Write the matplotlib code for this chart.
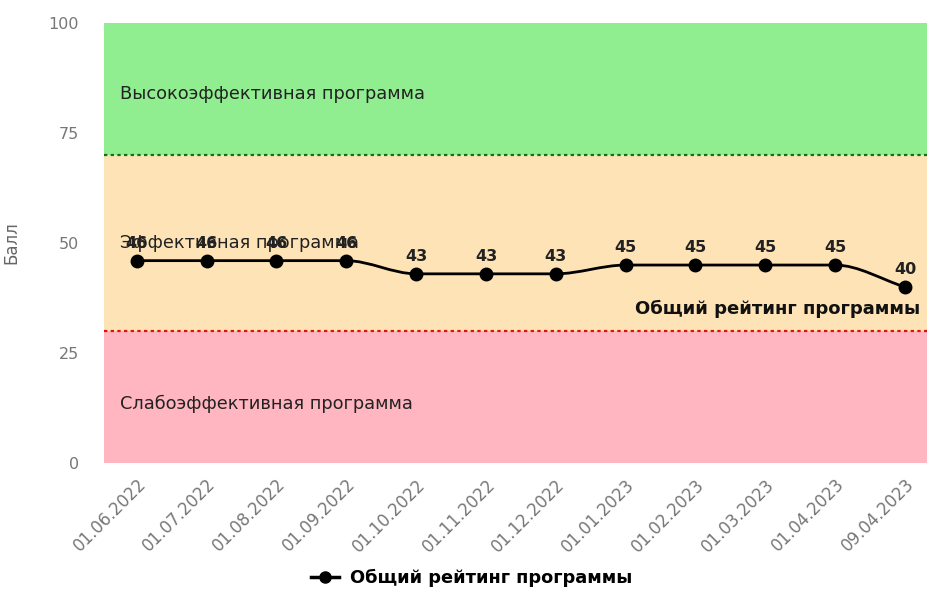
import numpy as np
import matplotlib.pyplot as plt
from matplotlib.path import Path
from matplotlib.patches import PathPatch
from matplotlib.lines import Line2D

dates = ['01.06.2022', '01.07.2022', '01.08.2022', '01.09.2022', '01.10.2022', '01.11.2022',
         '01.12.2022', '01.01.2023', '01.02.2023', '01.03.2023', '01.04.2023', '09.04.2023']
rating = [46, 46, 46, 46, 43, 43, 43, 45, 45, 45, 45, 40]
series_name = 'Общий рейтинг программы'

zone_names = ['Слабоэффективная программа', 'Эффективная программа', 'Высокоэффективная программа']
zone_bounds = [0, 30, 70, 100]
zone_colors = ['#ffb6c1', '#fde3b6', '#90ee90']


def monotone_path(x, y):
    # кривая как в Chart.js (monotone)
    x = np.asarray(x, float)
    y = np.asarray(y, float)
    n = len(x)
    d = np.diff(y) / np.diff(x)
    m = np.zeros(n)
    m[0], m[-1] = d[0], d[-1]
    for i in range(1, n - 1):
        m[i] = 0 if d[i - 1] * d[i] <= 0 else (d[i - 1] + d[i]) / 2
    for i in range(n - 1):
        if d[i] == 0:
            m[i] = m[i + 1] = 0
    verts = [(x[0], y[0])]
    codes = [Path.MOVETO]
    for i in range(n - 1):
        h = (x[i + 1] - x[i]) / 3
        verts += [(x[i] + h, y[i] + m[i] * h), (x[i + 1] - h, y[i + 1] - m[i + 1] * h), (x[i + 1], y[i + 1])]
        codes += [Path.CURVE4] * 3
    return Path(verts, codes)


fig = plt.figure(figsize=(9.28, 5.95), dpi=100)
ax = fig.add_axes([0.112, 0.222, 0.888, 0.739])

xs = np.arange(len(dates))
ax.set_xlim(-0.47, len(dates) - 1 + 0.33)
ax.set_ylim(0, 100)

for lo, hi, c in zip(zone_bounds[:-1], zone_bounds[1:], zone_colors):
    ax.axhspan(lo, hi, color=c, lw=0, zorder=0)
ax.axhline(70, color='#1a6b1a', ls=(0, (1.5, 1.5)), lw=1.6, zorder=1)
ax.axhline(30, color='#e01010', ls=(0, (1.5, 1.5)), lw=1.6, zorder=1)

zone_y = [13.5, 50, 84]
for name, yy in zip(zone_names, zone_y):
    ax.text(0.02, yy, name, transform=ax.get_yaxis_transform(), fontsize=12.8,
            color='#222222', va='center', ha='left', zorder=2)

ax.add_patch(PathPatch(monotone_path(xs, rating), fill=False, lw=2, color='black', zorder=3))
ax.plot(xs, rating, 'o', color='black', ms=9, zorder=4)
for x, v in zip(xs, rating):
    ax.annotate(str(v), (x, v), xytext=(0, 7), textcoords='offset points', ha='center',
                va='bottom', fontsize=11.5, fontweight='bold', color='#222222', zorder=5)
ax.annotate(series_name, (xs[-1], rating[-1]), xytext=(11, -9), textcoords='offset points',
            ha='right', va='top', fontsize=13, fontweight='bold', color='#111111', zorder=5)

ax.set_yticks([0, 25, 50, 75, 100])
ax.set_xticks(xs)
ax.set_xticklabels(dates, rotation=45, ha='right', rotation_mode='anchor')
ax.tick_params(colors='#777777', labelsize=12, length=0)
ax.tick_params(axis='y', pad=18, labelsize=11.5)
ax.tick_params(axis='x', pad=9)
ax.set_ylabel('Балл', color='#666666', fontsize=12)
ax.yaxis.set_label_coords(-0.102, 0.5)
for s in ax.spines.values():
    s.set_visible(False)

handle = Line2D([], [], color='black', marker='o', ms=8, lw=2.5)
leg = fig.legend([handle], [series_name], loc='center', bbox_to_anchor=(0.508, 0.028),
                 frameon=False, handlelength=1.6, handletextpad=0.6,
                 prop={'weight': 'bold', 'size': 12.8})

fig.savefig('out.png', dpi=100)
